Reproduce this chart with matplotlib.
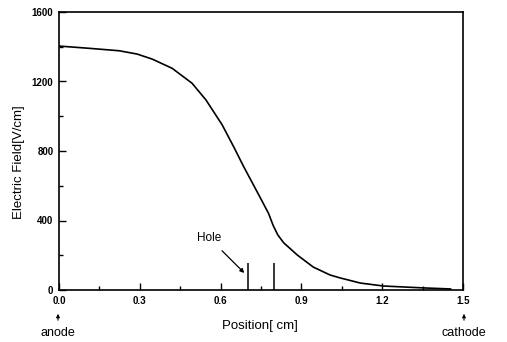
import numpy as np
import matplotlib
matplotlib.use("Agg")
import matplotlib.pyplot as plt
from matplotlib.ticker import MultipleLocator

# values
position = [0.0, 0.112, 0.223, 0.29, 0.346, 0.42, 0.494, 0.546, 0.606, 0.65,
            0.684, 0.747, 0.778, 0.795, 0.812, 0.834, 0.885, 0.944, 1.007,
            1.045, 1.119, 1.204, 1.353, 1.454]
field = [1404, 1391, 1377, 1358, 1329, 1276, 1190, 1093, 950, 820,
         715, 532, 441, 372, 318, 272, 201, 132, 86,
         69, 40, 23, 12, 6]
hole_pos = [0.7, 0.8]
hole_height = 155
x_ticks = [0.0, 0.3, 0.6, 0.9, 1.2, 1.5]
y_ticks = [0, 400, 800, 1200, 1600]

plt.rcParams['font.family'] = ['Liberation Sans', 'DejaVu Sans']

fig = plt.figure(figsize=(5.07, 3.42), dpi=100)
ax = fig.add_axes([59 / 507, 1 - 290 / 342, 404 / 507, 278 / 342])

ax.plot(position, field, color='black', lw=1.2)
ax.vlines(hole_pos, 0, hole_height, color='black', lw=1.1)

ax.annotate('Hole', xy=(0.688, 98), xytext=(0.558, 299),
            ha='center', va='center', fontsize=8.5,
            arrowprops=dict(arrowstyle='-|>', color='black', lw=0.9,
                            mutation_scale=6, shrinkA=4, shrinkB=0))

ax.set_xlim(0, 1.5)
ax.set_ylim(0, 1600)
ax.set_xticks(x_ticks)
ax.set_xticklabels(['%.1f' % v for v in x_ticks])
ax.set_yticks(y_ticks)
ax.set_yticklabels([str(v) for v in y_ticks])
ax.xaxis.set_minor_locator(MultipleLocator(0.15))
ax.yaxis.set_minor_locator(MultipleLocator(200))
ax.tick_params(which='both', direction='in', width=1.0)
ax.tick_params(which='major', length=5, labelsize=7, pad=4)
ax.tick_params(which='minor', length=3)
for lab in ax.get_xticklabels() + ax.get_yticklabels():
    lab.set_fontweight('bold')
    lab.set_fontstretch('condensed')
for s in ax.spines.values():
    s.set_linewidth(1.2)

fig.text(19 / 507, 1 - 162 / 342, 'Electric Field[V/cm]', rotation=90,
         ha='center', va='center', fontsize=9.5)
fig.text(260 / 507, 1 - 326 / 342, 'Position[ cm]', ha='center', va='center', fontsize=9.5)

# anode / cathode markers below the axis
for xp, name in [(58, 'anode'), (464, 'cathode')]:
    fig.patches.append(matplotlib.patches.FancyArrowPatch(
        (xp / 507, 1 - 323 / 342), (xp / 507, 1 - 311 / 342),
        transform=fig.transFigure, arrowstyle='-|>', mutation_scale=5,
        color='black', lw=0.8))
    fig.text(xp / 507, 1 - 333 / 342, name, ha='center', va='center', fontsize=9)

fig.savefig('out.png', dpi=100)
